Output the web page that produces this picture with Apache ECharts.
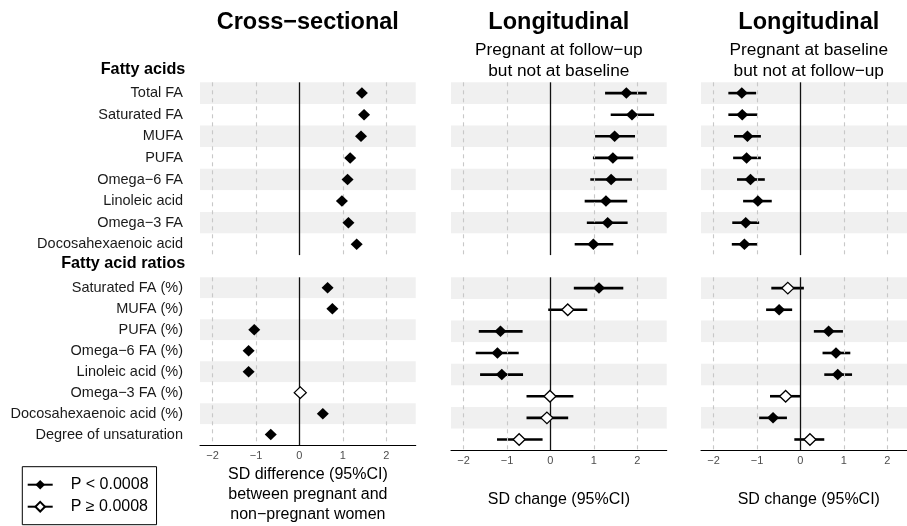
<!DOCTYPE html>
<html>
<head>
<meta charset="utf-8">
<script src="https://cdn.jsdelivr.net/npm/echarts@6/dist/echarts.min.js"></script>
<style>html,body{margin:0;padding:0;background:#fff}#c{width:907px;height:526px}</style>
</head>
<body>
<div id="c"></div>
<script>
// ---- Data ----
const faLabels = ['Total FA','Saturated FA','MUFA','PUFA','Omega\u22126 FA','Linoleic acid','Omega\u22123 FA','Docosahexaenoic acid'];
const ratioLabels = ['Saturated FA (%)','MUFA (%)','PUFA (%)','Omega\u22126 FA (%)','Linoleic acid (%)','Omega\u22123 FA (%)','Docosahexaenoic acid (%)','Degree of unsaturation'];
const xTicks = [-2, -1, 0, 1, 2];

// Cross-sectional
const csFaEst = [1.44, 1.49, 1.42, 1.17, 1.11, 0.98, 1.13, 1.32];
const csFaLo  = [1.37, 1.42, 1.35, 1.10, 1.04, 0.91, 1.06, 1.25];
const csFaHi  = [1.51, 1.56, 1.49, 1.24, 1.18, 1.05, 1.20, 1.39];
const csFaSig = [1, 1, 1, 1, 1, 1, 1, 1];
const csRaEst = [0.65, 0.76, -1.04, -1.17, -1.17, 0.02, 0.54, -0.66];
const csRaLo  = [0.58, 0.69, -1.11, -1.24, -1.24, -0.05, 0.47, -0.73];
const csRaHi  = [0.72, 0.83, -0.97, -1.10, -1.10, 0.09, 0.61, -0.59];
const csRaSig = [1, 1, 1, 1, 1, 0, 1, 1];

// Longitudinal: pregnant at follow-up but not at baseline
const l1FaEst = [1.75, 1.88, 1.48, 1.44, 1.40, 1.28, 1.32, 0.99];
const l1FaLo  = [1.26, 1.39, 1.03, 0.98, 0.92, 0.79, 0.84, 0.56];
const l1FaHi  = [2.22, 2.39, 1.95, 1.91, 1.88, 1.77, 1.78, 1.45];
const l1FaSig = [1, 1, 1, 1, 1, 1, 1, 1];
const l1RaEst = [1.12, 0.40, -1.15, -1.22, -1.12, -0.01, -0.08, -0.72];
const l1RaLo  = [0.54, -0.05, -1.65, -1.72, -1.62, -0.55, -0.55, -1.23];
const l1RaHi  = [1.68, 0.85, -0.64, -0.73, -0.63, 0.53, 0.41, -0.18];
const l1RaSig = [1, 0, 1, 1, 1, 0, 0, 0];

// Longitudinal: pregnant at baseline but not at follow-up
const l2FaEst = [-1.35, -1.34, -1.22, -1.24, -1.15, -0.98, -1.26, -1.29];
const l2FaLo  = [-1.66, -1.66, -1.53, -1.55, -1.46, -1.32, -1.57, -1.58];
const l2FaHi  = [-1.02, -0.99, -0.91, -0.91, -0.82, -0.66, -0.95, -0.98];
const l2FaSig = [1, 1, 1, 1, 1, 1, 1, 1];
const l2RaEst = [-0.29, -0.49, 0.65, 0.82, 0.86, -0.34, -0.63, 0.22];
const l2RaLo  = [-0.67, -0.79, 0.31, 0.51, 0.55, -0.70, -0.95, -0.14];
const l2RaHi  = [0.08, -0.19, 0.98, 1.15, 1.19, 0.00, -0.31, 0.55];
const l2RaSig = [0, 1, 1, 1, 1, 0, 1, 0];

const sigName = 'P < 0.0008';
const nsName = 'P \u2265 0.0008';
const xNames = ['SD difference (95%CI)\nbetween pregnant and\nnon\u2212pregnant women', 'SD change (95%CI)', 'SD change (95%CI)'];

// ---- Layout ----
const FONT = '"Liberation Sans", Arial, Helvetica, sans-serif';
const panelLeft = [200, 451, 701];
const panelW = [215.7, 215.7, 206];      // last panel is cut by the picture edge
const panelMax = [2.68, 2.68, 2.456];
const namePad = [0, 0, 9.6];
const rowTop = [82.3, 277.3];
const rowH = [172.8, 173];
const xMin = -2.29;

const sets = [
  [[csFaEst, csFaLo, csFaHi, csFaSig], [csRaEst, csRaLo, csRaHi, csRaSig]],
  [[l1FaEst, l1FaLo, l1FaHi, l1FaSig], [l1RaEst, l1RaLo, l1RaHi, l1RaSig]],
  [[l2FaEst, l2FaLo, l2FaHi, l2FaSig], [l2RaEst, l2RaLo, l2RaHi, l2RaSig]]
];

const grid = [], xAxis = [], yAxis = [], series = [];
const minus = v => String(v).replace('-', '\u2212');

for (let p = 0; p < 3; p++) {
  for (let r = 0; r < 2; r++) {
    const g = grid.length;
    const labels = r === 0 ? faLabels : ratioLabels;
    grid.push({left: panelLeft[p], width: panelW[p], top: rowTop[r], height: rowH[r], containLabel: false});
    xAxis.push({
      type: 'value', gridIndex: g, min: xMin, max: panelMax[p],
      splitLine: {show: false}, axisTick: {show: false},
      axisLine: {show: r === 1, onZero: false, lineStyle: {color: '#000', width: 1.1}},
      axisLabel: {show: r === 1, customValues: xTicks, formatter: minus, color: '#4d4d4d', fontSize: 11, fontFamily: FONT, margin: 5},
      name: r === 1 ? xNames[p] : '', nameLocation: 'middle', nameGap: p === 0 ? 19 : 39,
      nameTextStyle: {fontSize: 16, color: '#000', fontFamily: FONT, lineHeight: 20.3, verticalAlign: 'top', padding: [0, 0, 0, namePad[p]]}
    });
    yAxis.push({
      type: 'category', gridIndex: g, data: labels, inverse: true,
      axisLine: {show: false}, axisTick: {show: false},
      axisLabel: {show: p === 0, interval: 0, margin: 17, fontSize: 14.5, color: '#1a1a1a', fontFamily: FONT},
      splitLine: {show: false},
      splitArea: {show: true, interval: 0, areaStyle: {color: ['#f0f0f0', '#ffffff']}}
    });
    const [est, lo, hi, sig] = sets[p][r];
    // reference lines
    const grey = {color: '#c8c8c8', width: 1.1, type: [4, 4]};
    series.push({
      type: 'scatter', xAxisIndex: g, yAxisIndex: g, data: [], z: 1, silent: true,
      markLine: {
        silent: true, symbol: 'none', animation: false, label: {show: false},
        data: [
          {xAxis: -2, lineStyle: grey}, {xAxis: -1, lineStyle: grey},
          {xAxis: 1, lineStyle: grey}, {xAxis: 2, lineStyle: grey},
          {xAxis: 0, lineStyle: {color: '#111', width: 1.3, type: 'solid'}}
        ]
      }
    });
    // confidence intervals
    series.push({
      type: 'custom', xAxisIndex: g, yAxisIndex: g, z: 3, silent: true,
      data: est.map((e, i) => [lo[i], hi[i], i]),
      encode: {x: [0, 1], y: 2},
      renderItem: (params, api) => {
        const a = api.coord([api.value(0), api.value(2)]);
        const b = api.coord([api.value(1), api.value(2)]);
        return {type: 'line', shape: {x1: a[0], y1: a[1], x2: b[0], y2: b[1]}, style: {stroke: '#000', lineWidth: 2.6}};
      }
    });
    // estimates
    series.push({
      type: 'scatter', name: 'sig' + g, xAxisIndex: g, yAxisIndex: g, z: 5, silent: true,
      symbol: 'diamond', symbolSize: [12, 11.5],
      itemStyle: {color: '#000', opacity: 1},
      data: est.map((e, i) => sig[i] ? [e, i] : null).filter(d => d)
    });
    series.push({
      type: 'scatter', name: 'ns' + g, xAxisIndex: g, yAxisIndex: g, z: 5, silent: true,
      symbol: 'diamond', symbolSize: [12, 11.5],
      itemStyle: {color: '#fff', borderColor: '#000', borderWidth: 1.3, opacity: 1},
      data: est.map((e, i) => sig[i] ? null : [e, i]).filter(d => d)
    });
  }
}

// legend-only series
series.push({type: 'line', name: sigName, xAxisIndex: 0, yAxisIndex: 0, data: [], symbol: 'diamond', symbolSize: 10,
  lineStyle: {color: '#000', width: 1.3}, itemStyle: {color: '#000'}});
series.push({type: 'line', name: nsName, xAxisIndex: 0, yAxisIndex: 0, data: [], symbol: 'diamond', symbolSize: 10,
  lineStyle: {color: '#000', width: 1.3}, itemStyle: {color: '#fff', borderColor: '#000', borderWidth: 1.2}});

const textEl = (x, y, text, font, align, lh) => ({
  type: 'text', x: x, y: y, silent: true,
  style: {text: text, font: font, fill: '#000', align: align, verticalAlign: 'middle', lineHeight: lh || undefined}
});

const option = {
  animation: false,
  backgroundColor: '#fff',
  textStyle: {fontFamily: FONT},
  grid, xAxis, yAxis, series,
  legend: {
    data: [sigName, nsName], orient: 'vertical', left: 22.3, top: 466.7,
    itemWidth: 25, itemHeight: 12, itemGap: 6,
    padding: [10, 8, 10, 4.4],
    borderColor: '#000', borderWidth: 1, borderRadius: 0,
    selectedMode: false,
    textStyle: {fontSize: 16, color: '#000', fontFamily: FONT, padding: [0, 0, 0, 13]}
  },
  graphic: [
    textEl(307.8, 23, 'Cross\u2212sectional', 'bold 23.5px ' + FONT, 'center'),
    textEl(558.8, 23, 'Longitudinal', 'bold 23.5px ' + FONT, 'center'),
    textEl(808.8, 23, 'Longitudinal', 'bold 23.5px ' + FONT, 'center'),
    textEl(558.8, 60.5, 'Pregnant at follow\u2212up\nbut not at baseline', '17.3px ' + FONT, 'center', 20.7),
    textEl(808.8, 60.5, 'Pregnant at baseline\nbut not at follow\u2212up', '17.3px ' + FONT, 'center', 20.7),
    textEl(185.3, 69.5, 'Fatty acids', 'bold 16.2px ' + FONT, 'right'),
    textEl(185.3, 263.5, 'Fatty acid ratios', 'bold 16.2px ' + FONT, 'right')
  ]
};

const chart = echarts.init(document.getElementById('c'), null, {renderer: 'canvas'});
chart.setOption(option);
</script>
</body>
</html>
